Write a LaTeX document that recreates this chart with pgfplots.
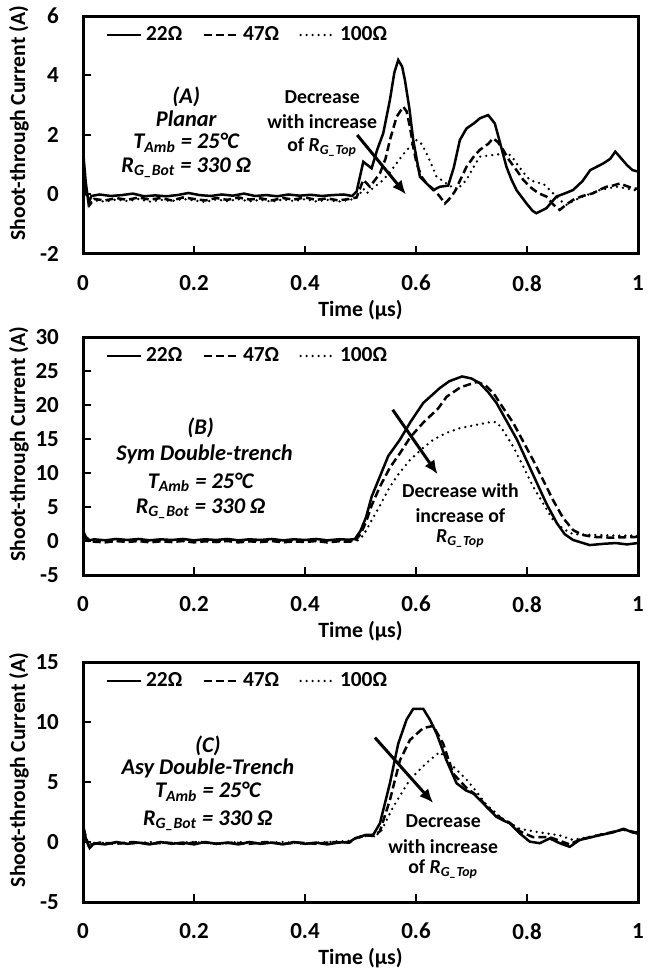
\documentclass[border=0pt]{standalone}
\usepackage{fontspec}
\setmainfont{Carlito}
\usepackage{pgfplots}
\pgfplotsset{compat=1.18}
\usetikzlibrary{arrows.meta}

\newcommand{\tickfont}{\fontsize{11.5}{12}\selectfont\bfseries}
\newcommand{\annfont}{\fontsize{11.2}{12}\selectfont\bfseries\itshape}
\newcommand{\decfont}{\fontsize{9.9}{11}\selectfont\bfseries}

\pgfplotsset{
  panel/.style={
    scale only axis, width=277.5pt, height=119pt,
    xmin=0, xmax=1,
    xtick={0,0.2,0.4,0.6,0.8,1},
    xticklabels={0,0.2,0.4,0.6,0.8,1},
    tick pos=left, tick align=inside,
    major tick length=4pt,
    every tick/.style={black, line width=1pt},
    axis line style={line width=1.5pt},
    every axis/.append style={line width=1.5pt},
    ticklabel style={font=\tickfont},
    xticklabel style={yshift=-6.5pt},
    yticklabel style={xshift=-8pt},
    xlabel={Time (µs)},
    ylabel={Shoot-through Current (A)},
    xlabel style={font=\fontsize{10.9}{12}\selectfont\bfseries, at={(axis description cs:0.5,0)}, anchor=center, yshift=-28pt},
    ylabel style={font=\fontsize{10.8}{12}\selectfont\bfseries, at={(axis description cs:0,0.55)}, anchor=center, yshift=32pt},
    legend style={draw=none, fill=none, at={(axis description cs:0,1)}, anchor=west, xshift=7.5pt, yshift=-9.5pt,
      font=\fontsize{10.7}{12}\selectfont\bfseries, legend columns=3,
      /tikz/every even column/.append style={column sep=8pt}},
    legend cell align=left,
  },
  s22/.style={black, line width=1.25pt, solid},
  s47/.style={black, line width=1.25pt, dash pattern=on 4pt off 2pt},
  s100/.style={black, line width=1.3pt, line cap=round, dash pattern=on 0pt off 3pt},
}

\begin{document}
\begin{tikzpicture}
\useasboundingbox (0,0) rectangle (324.5pt,-484.5pt);

% ---------------- Panel A ----------------
\begin{axis}[panel, at={(41.5pt,-8pt)}, anchor=north west,
  ymin=-2, ymax=6, ytick={-2,0,2,4,6}, yticklabels={-2,0,2,4,6}]
\addplot[s22] coordinates {(0,1.5) (0.005,0.4) (0.01,-0.3) (0.015,-0.05) (0.03,0.0) (0.05,-0.05) (0.07,-0.02) (0.09,0.03) (0.11,-0.06) (0.13,-0.03) (0.15,-0.06) (0.17,-0.02) (0.19,0.05) (0.21,-0.02) (0.23,-0.05) (0.25,0.0) (0.27,-0.04) (0.29,0.03) (0.31,-0.05) (0.33,-0.02) (0.35,-0.06) (0.37,0.0) (0.39,-0.04) (0.41,-0.01) (0.43,-0.05) (0.45,-0.02) (0.47,0.0) (0.485,-0.05) (0.493,0.1) (0.505,1.1) (0.52,0.88) (0.53,1.5) (0.541,2.06) (0.553,3.18) (0.561,4.1) (0.568,4.52) (0.575,4.3) (0.58,3.85) (0.588,2.9) (0.595,1.83) (0.607,0.6) (0.62,0.35) (0.631,0.15) (0.643,0.26) (0.658,0.3) (0.668,0.9) (0.679,1.83) (0.691,2.22) (0.705,2.4) (0.715,2.56) (0.73,2.67) (0.742,2.39) (0.752,1.7) (0.763,0.93) (0.772,0.5) (0.781,0.15) (0.799,-0.3) (0.81,-0.55) (0.817,-0.63) (0.835,-0.46) (0.853,-0.07) (0.87,0.05) (0.883,0.15) (0.9,0.45) (0.914,0.82) (0.938,1.05) (0.95,1.2) (0.959,1.44) (0.968,1.25) (0.98,0.99) (0.99,0.82) (1.0,0.77)};
\addlegendentry{22Ω}
\addplot[s47] coordinates {(0,0.6) (0.005,0.1) (0.012,-0.35) (0.02,-0.15) (0.04,-0.2) (0.06,-0.12) (0.08,-0.18) (0.1,-0.1) (0.12,-0.17) (0.14,-0.12) (0.16,-0.2) (0.18,-0.1) (0.2,-0.15) (0.22,-0.2) (0.24,-0.12) (0.26,-0.18) (0.28,-0.1) (0.3,-0.17) (0.32,-0.13) (0.34,-0.2) (0.36,-0.12) (0.38,-0.17) (0.4,-0.1) (0.42,-0.18) (0.44,-0.13) (0.46,-0.2) (0.48,-0.15) (0.493,-0.1) (0.505,0.49) (0.517,0.26) (0.535,0.71) (0.545,1.2) (0.553,1.83) (0.565,2.61) (0.577,2.95) (0.583,2.8) (0.589,2.28) (0.595,1.6) (0.601,1.05) (0.61,0.6) (0.619,0.37) (0.633,0.15) (0.643,-0.07) (0.652,-0.3) (0.66,-0.15) (0.67,0.1) (0.68,0.5) (0.691,0.93) (0.705,1.3) (0.715,1.5) (0.73,1.7) (0.739,1.89) (0.748,1.75) (0.757,1.5) (0.768,1.15) (0.781,0.82) (0.793,0.5) (0.805,0.26) (0.82,0.05) (0.835,-0.07) (0.848,-0.35) (0.859,-0.52) (0.87,-0.35) (0.883,-0.18) (0.9,-0.05) (0.919,0.04) (0.93,0.15) (0.943,0.26) (0.955,0.3) (0.967,0.37) (0.98,0.28) (0.992,0.2) (1.0,0.2)};
\addlegendentry{47Ω}
\addplot[s100] coordinates {(0,0.4) (0.005,0.0) (0.012,-0.3) (0.02,-0.2) (0.04,-0.24) (0.06,-0.17) (0.08,-0.22) (0.1,-0.15) (0.12,-0.24) (0.14,-0.18) (0.16,-0.22) (0.18,-0.15) (0.2,-0.2) (0.22,-0.25) (0.24,-0.17) (0.26,-0.22) (0.28,-0.16) (0.3,-0.23) (0.32,-0.18) (0.34,-0.24) (0.36,-0.17) (0.38,-0.22) (0.4,-0.16) (0.42,-0.23) (0.44,-0.18) (0.46,-0.24) (0.48,-0.18) (0.49,-0.15) (0.5,0.05) (0.505,0.2) (0.511,0.04) (0.525,0.25) (0.541,0.49) (0.553,0.75) (0.565,1.05) (0.577,1.35) (0.589,1.61) (0.601,1.83) (0.61,1.7) (0.619,1.38) (0.628,1.0) (0.637,0.6) (0.655,0.37) (0.673,0.15) (0.691,0.49) (0.703,0.9) (0.715,1.27) (0.739,1.33) (0.763,1.38) (0.772,1.3) (0.781,1.05) (0.793,0.75) (0.805,0.49) (0.818,0.4) (0.829,0.37) (0.847,0.04) (0.86,-0.2) (0.871,-0.35) (0.885,-0.2) (0.901,-0.07) (0.931,0.15) (0.961,0.26) (0.975,0.22) (0.992,0.15) (1.0,0.15)};
\addlegendentry{100Ω}
\node[font=\annfont] at (axis cs:0.186,3.28) {(A)};
\node[font=\annfont] at (axis cs:0.186,2.54) {Planar};
\node[font=\annfont] at (axis cs:0.186,1.73) {T\textsubscript{Amb} = 25°C};
\node[font=\annfont] at (axis cs:0.186,0.89) {R\textsubscript{G\_Bot} = 330 Ω};
\node[font=\decfont] at (axis cs:0.431,3.28) {Decrease};
\node[font=\decfont] at (axis cs:0.431,2.44) {with increase};
\node[font=\decfont] at (axis cs:0.431,1.60) {of \textit{R\textsubscript{G\_Top}}};
\draw[line width=1.5pt, -{Latex[length=7pt,width=6pt]}] (axis cs:0.494,2.0) -- (axis cs:0.582,0.0);
\end{axis}

% ---------------- Panel B ----------------
\begin{axis}[panel, at={(41.5pt,-168.5pt)}, anchor=north west,
  ymin=-5, ymax=30, ytick={-5,0,5,10,15,20,25,30}, yticklabels={-5,0,5,10,15,20,25,30}]
\addplot[s22] coordinates {(0,1.5) (0.005,0.6) (0.012,0.1) (0.02,0.25) (0.04,0.1) (0.06,0.3) (0.08,0.15) (0.1,0.3) (0.12,0.1) (0.14,0.25) (0.16,0.15) (0.18,0.3) (0.2,0.1) (0.22,0.25) (0.24,0.15) (0.26,0.3) (0.28,0.1) (0.3,0.25) (0.32,0.15) (0.34,0.3) (0.36,0.1) (0.38,0.25) (0.4,0.15) (0.42,0.3) (0.44,0.1) (0.46,0.25) (0.48,0.2) (0.49,0.3) (0.5,1.5) (0.51,3.5) (0.52,6.5) (0.535,9.5) (0.55,12.5) (0.571,14.9) (0.59,17.5) (0.613,20.3) (0.643,22.5) (0.66,23.5) (0.683,24.2) (0.7,23.9) (0.715,23.2) (0.73,21.9) (0.745,20.3) (0.782,14.9) (0.818,8.5) (0.835,5.5) (0.854,2.6) (0.868,1.0) (0.883,0.15) (0.913,-0.6) (0.94,-0.4) (0.96,-0.3) (0.98,-0.5) (1.0,-0.3)};
\addlegendentry{22Ω}
\addplot[s47] coordinates {(0,0.8) (0.01,0.0) (0.02,-0.1) (0.04,-0.2) (0.06,0.0) (0.08,-0.15) (0.1,0.0) (0.12,-0.2) (0.14,-0.05) (0.16,-0.15) (0.18,0.0) (0.2,-0.2) (0.22,-0.05) (0.24,-0.15) (0.26,0.0) (0.28,-0.2) (0.3,-0.05) (0.32,-0.15) (0.34,0.0) (0.36,-0.2) (0.38,-0.05) (0.4,-0.15) (0.42,0.0) (0.44,-0.2) (0.46,-0.05) (0.48,-0.1) (0.49,0.0) (0.5,1.0) (0.51,2.8) (0.52,5.2) (0.535,8.0) (0.553,10.8) (0.571,12.9) (0.59,15.3) (0.613,17.4) (0.64,19.5) (0.655,21.2) (0.68,22.6) (0.71,23.4) (0.725,22.9) (0.74,21.7) (0.76,19.2) (0.775,17.4) (0.794,14.5) (0.811,11.9) (0.83,8.8) (0.847,6.0) (0.865,3.4) (0.883,1.6) (0.9,0.9) (0.92,0.6) (0.95,0.5) (1.0,0.6)};
\addlegendentry{47Ω}
\addplot[s100] coordinates {(0,0.5) (0.01,0.0) (0.03,0.1) (0.06,-0.05) (0.09,0.1) (0.12,-0.05) (0.15,0.1) (0.18,0.0) (0.21,0.1) (0.24,-0.05) (0.27,0.1) (0.3,0.0) (0.33,0.1) (0.36,-0.05) (0.39,0.1) (0.42,0.0) (0.45,0.1) (0.48,0.0) (0.495,0.1) (0.505,0.8) (0.517,2.6) (0.535,5.2) (0.553,8.0) (0.57,10.0) (0.589,11.9) (0.61,13.5) (0.631,14.9) (0.655,15.9) (0.679,16.6) (0.71,17.1) (0.735,17.5) (0.745,17.5) (0.755,16.5) (0.775,13.9) (0.793,11.0) (0.811,8.0) (0.83,5.4) (0.847,3.1) (0.865,1.8) (0.883,1.0) (0.92,0.9) (0.96,0.8) (1.0,0.8)};
\addlegendentry{100Ω}
\node[font=\annfont] at (axis cs:0.212,16.7) {(B)};
\node[font=\annfont] at (axis cs:0.219,12.7) {Sym Double-trench};
\node[font=\annfont] at (axis cs:0.212,8.6) {T\textsubscript{Amb} = 25°C};
\node[font=\annfont] at (axis cs:0.212,4.7) {R\textsubscript{G\_Bot} = 330 Ω};
\node[font=\decfont] at (axis cs:0.68,7.4) {Decrease with};
\node[font=\decfont] at (axis cs:0.68,3.7) {increase of};
\node[font=\decfont] at (axis cs:0.68,0.3) {\textit{R\textsubscript{G\_Top}}};
\draw[line width=1.5pt, -{Latex[length=7pt,width=6pt]}] (axis cs:0.558,19.3) -- (axis cs:0.639,9.8);
\end{axis}

% ---------------- Panel C ----------------
\begin{axis}[panel, at={(41.5pt,-331pt)}, anchor=north west, height=120pt,
  ymin=-5, ymax=15, ytick={-5,0,5,10,15}, yticklabels={-5,0,5,10,15}]
\addplot[s22] coordinates {(0,1.5) (0.005,0.3) (0.012,-0.5) (0.02,-0.1) (0.04,-0.2) (0.06,0.0) (0.08,-0.15) (0.1,-0.05) (0.12,-0.2) (0.14,0.0) (0.16,-0.15) (0.18,-0.05) (0.2,-0.2) (0.22,0.0) (0.24,-0.15) (0.26,-0.05) (0.28,-0.2) (0.3,0.0) (0.32,-0.15) (0.34,-0.05) (0.36,-0.2) (0.38,0.0) (0.4,-0.15) (0.42,-0.05) (0.44,-0.2) (0.46,-0.05) (0.48,0.0) (0.49,0.3) (0.499,0.44) (0.51,0.6) (0.523,0.6) (0.535,1.56) (0.553,4.9) (0.568,8.2) (0.583,10.2) (0.595,11.1) (0.613,11.1) (0.625,10.2) (0.637,9.05) (0.655,6.8) (0.673,4.9) (0.69,4.3) (0.703,4.05) (0.715,3.5) (0.727,2.94) (0.745,2.1) (0.757,1.8) (0.769,1.56) (0.787,0.72) (0.805,0.03) (0.823,-0.1) (0.841,0.3) (0.859,-0.1) (0.877,-0.4) (0.895,0.17) (0.932,0.58) (0.955,0.8) (0.974,1.1) (0.99,0.8) (1.0,0.7)};
\addlegendentry{22Ω}
\addplot[s47] coordinates {(0,1.2) (0.01,-0.3) (0.03,-0.05) (0.06,-0.15) (0.09,0.0) (0.12,-0.15) (0.15,-0.05) (0.18,-0.15) (0.21,0.0) (0.24,-0.15) (0.27,-0.05) (0.3,-0.15) (0.33,0.0) (0.36,-0.15) (0.39,-0.05) (0.42,-0.15) (0.45,0.0) (0.48,-0.05) (0.49,0.3) (0.51,0.55) (0.525,0.5) (0.535,0.9) (0.553,3.5) (0.571,6.8) (0.589,8.5) (0.613,9.5) (0.631,9.67) (0.649,8.2) (0.667,5.7) (0.691,4.5) (0.709,3.9) (0.727,3.0) (0.745,2.2) (0.769,1.6) (0.787,0.9) (0.811,0.4) (0.841,0.4) (0.877,-0.2) (0.895,0.2) (0.932,0.6) (0.974,1.05) (1.0,0.75)};
\addlegendentry{47Ω}
\addplot[s100] coordinates {(0,1.0) (0.01,-0.2) (0.04,-0.05) (0.08,-0.15) (0.12,0.0) (0.16,-0.1) (0.2,0.0) (0.24,-0.15) (0.28,0.0) (0.32,-0.1) (0.36,0.0) (0.4,-0.15) (0.44,0.0) (0.48,0.1) (0.49,0.3) (0.51,0.5) (0.535,0.7) (0.559,2.94) (0.589,5.2) (0.619,6.6) (0.643,7.5) (0.667,6.3) (0.691,5.2) (0.709,4.2) (0.727,3.1) (0.757,1.9) (0.787,1.1) (0.823,0.8) (0.859,0.55) (0.883,0.17) (0.91,0.4) (0.95,0.8) (0.974,1.0) (1.0,0.8)};
\addlegendentry{100Ω}
\node[font=\annfont] at (axis cs:0.225,8.0) {(C)};
\node[font=\annfont] at (axis cs:0.225,6.1) {Asy Double-Trench};
\node[font=\annfont] at (axis cs:0.225,4.2) {T\textsubscript{Amb} = 25°C};
\node[font=\annfont] at (axis cs:0.225,1.8) {R\textsubscript{G\_Bot} = 330 Ω};
\node[font=\decfont] at (axis cs:0.649,1.7) {Decrease};
\node[font=\decfont] at (axis cs:0.649,-0.4) {with increase};
\node[font=\decfont] at (axis cs:0.649,-2.3) {of \textit{R\textsubscript{G\_Top}}};
\draw[line width=1.5pt, -{Latex[length=7pt,width=6pt]}] (axis cs:0.526,8.7) -- (axis cs:0.631,3.25);
\end{axis}
\end{tikzpicture}
\end{document}
